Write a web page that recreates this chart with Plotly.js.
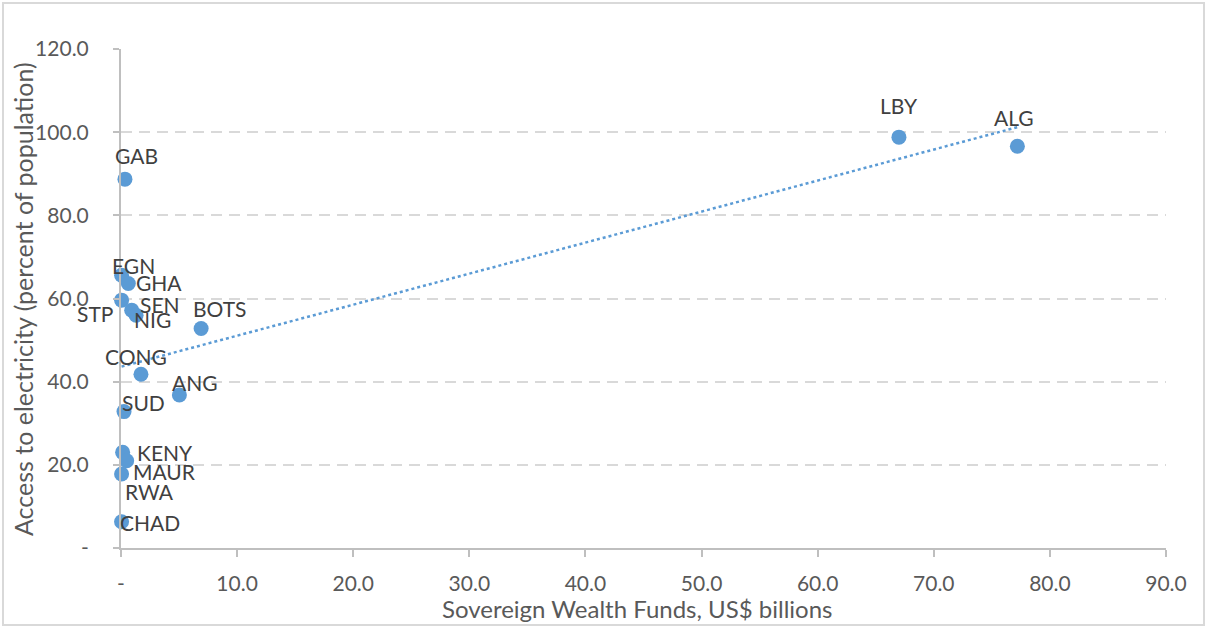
<!DOCTYPE html>
<html>
<head>
<meta charset="utf-8">
<script src="https://cdn.plot.ly/plotly-3.0.1.min.js"></script>
<style>
html,body{margin:0;padding:0;background:#fff;}
#wrap{position:absolute;left:2px;top:2px;width:1203px;height:624px;box-sizing:border-box;border:2px solid #d9d9d9;}
#chart{position:absolute;left:-4px;top:-4px;}
</style>
</head>
<body>
<div id="wrap"><div id="chart"></div></div>
<script>
// Data
const countries = ["GAB","LBY","ALG","EGN","GHA","STP","SEN","NIG","BOTS","CONG","ANG","SUD","KENY","MAUR","RWA","CHAD"];
const swf = [0.34, 67.0, 77.2, 0.05, 0.63, 0.05, 0.92, 1.3, 6.9, 1.72, 5.03, 0.26, 0.14, 0.49, 0.05, 0.05];
const electricity = [88.7, 98.8, 96.6, 65.6, 63.6, 59.6, 57.2, 56.0, 52.8, 41.8, 36.8, 32.8, 23.0, 21.0, 17.8, 6.3];

const xTickVals = [0,10,20,30,40,50,60,70,80,90];
const xTickText = ["-","10.0","20.0","30.0","40.0","50.0","60.0","70.0","80.0","90.0"];
const yTickVals = [0,20,40,60,80,100,120];
const yTickText = ["-","20.0","40.0","60.0","80.0","100.0","120.0"];
const xTitle = "Sovereign Wealth Funds, US$ billions";
const yTitle = "Access to electricity (percent of population)";

// label offsets (pixels) for data labels
const labelDx = [12, 0, -3, 12, 31, -27, 28, 16, 18, -5, 16, 19, 42, 38, 28, 28];
const labelDy = [24, 32, 29, 10, 1, -13, 6, -4, 20, 18, 12, 9, 0, -11, -18, -1];

// linear trendline (least squares) over the data
const n = swf.length;
const mx = swf.reduce((a,b)=>a+b,0)/n;
const my = electricity.reduce((a,b)=>a+b,0)/n;
let sxy=0, sxx=0;
for (let i=0;i<n;i++){ sxy += (swf[i]-mx)*(electricity[i]-my); sxx += (swf[i]-mx)**2; }
const slope = sxy/sxx, intercept = my - slope*mx;
const xMin = Math.min(...swf), xMax = Math.max(...swf);

const blue = "#5B9BD5";
const font = "Lato, Open Sans, sans-serif";

const traces = [
  {
    x: swf, y: electricity, mode: "markers", type: "scatter",
    marker: {color: blue, size: 15},
    cliponaxis: false, hoverinfo: "skip", showlegend: false
  },
  {
    x: [xMin, xMax], y: [intercept + slope*xMin, intercept + slope*xMax],
    mode: "lines", type: "scatter",
    line: {color: blue, width: 2.5, dash: "dot"},
    hoverinfo: "skip", showlegend: false
  }
];

const annotations = countries.map((c,i)=>({
  x: swf[i], y: electricity[i], text: c, showarrow: false,
  xanchor: "center", yanchor: "middle", xshift: labelDx[i], yshift: labelDy[i],
  font: {family: font, size: 21, color: "#404040"}
}));
annotations.push({
  xref: "paper", yref: "paper", x: 0.4947, y: -0.1222, text: xTitle, showarrow: false,
  xanchor: "center", yanchor: "middle", font: {family: font, size: 24, color: "#595959"}
});
annotations.push({
  xref: "paper", yref: "paper", x: -0.0938, y: 0.499, text: yTitle, showarrow: false, textangle: -90,
  xanchor: "center", yanchor: "middle", font: {family: font, size: 25, color: "#595959"}
});

const layout = {
  width: 1207, height: 628,
  margin: {l: 121, r: 41, t: 49, b: 80},
  paper_bgcolor: "rgba(0,0,0,0)", plot_bgcolor: "rgba(0,0,0,0)",
  font: {family: font, color: "#595959", size: 20},
  xaxis: {
    range: [0, 90], tickvals: xTickVals, ticktext: xTickText,
    showgrid: false, zeroline: false,
    showline: true, linecolor: "#bfbfbf", linewidth: 2,
    ticks: "outside", ticklen: 7, tickcolor: "#bfbfbf", tickwidth: 2,
    ticklabelstandoff: 9,
    tickfont: {family: font, size: 21, color: "#595959"}
  },
  yaxis: {
    range: [0, 120], tickvals: yTickVals, ticktext: yTickText,
    showgrid: true, gridcolor: "#d9d9d9", gridwidth: 2, griddash: "11px,7px",
    zeroline: false,
    showline: true, linecolor: "#bfbfbf", linewidth: 2,
    ticks: "outside", ticklen: 6, tickcolor: "#bfbfbf", tickwidth: 2,
    ticklabelstandoff: 20,
    tickfont: {family: font, size: 21, color: "#595959"}
  },
  annotations: annotations
};

Plotly.newPlot("chart", traces, layout, {displayModeBar: false, staticPlot: true});
</script>
</body>
</html>
